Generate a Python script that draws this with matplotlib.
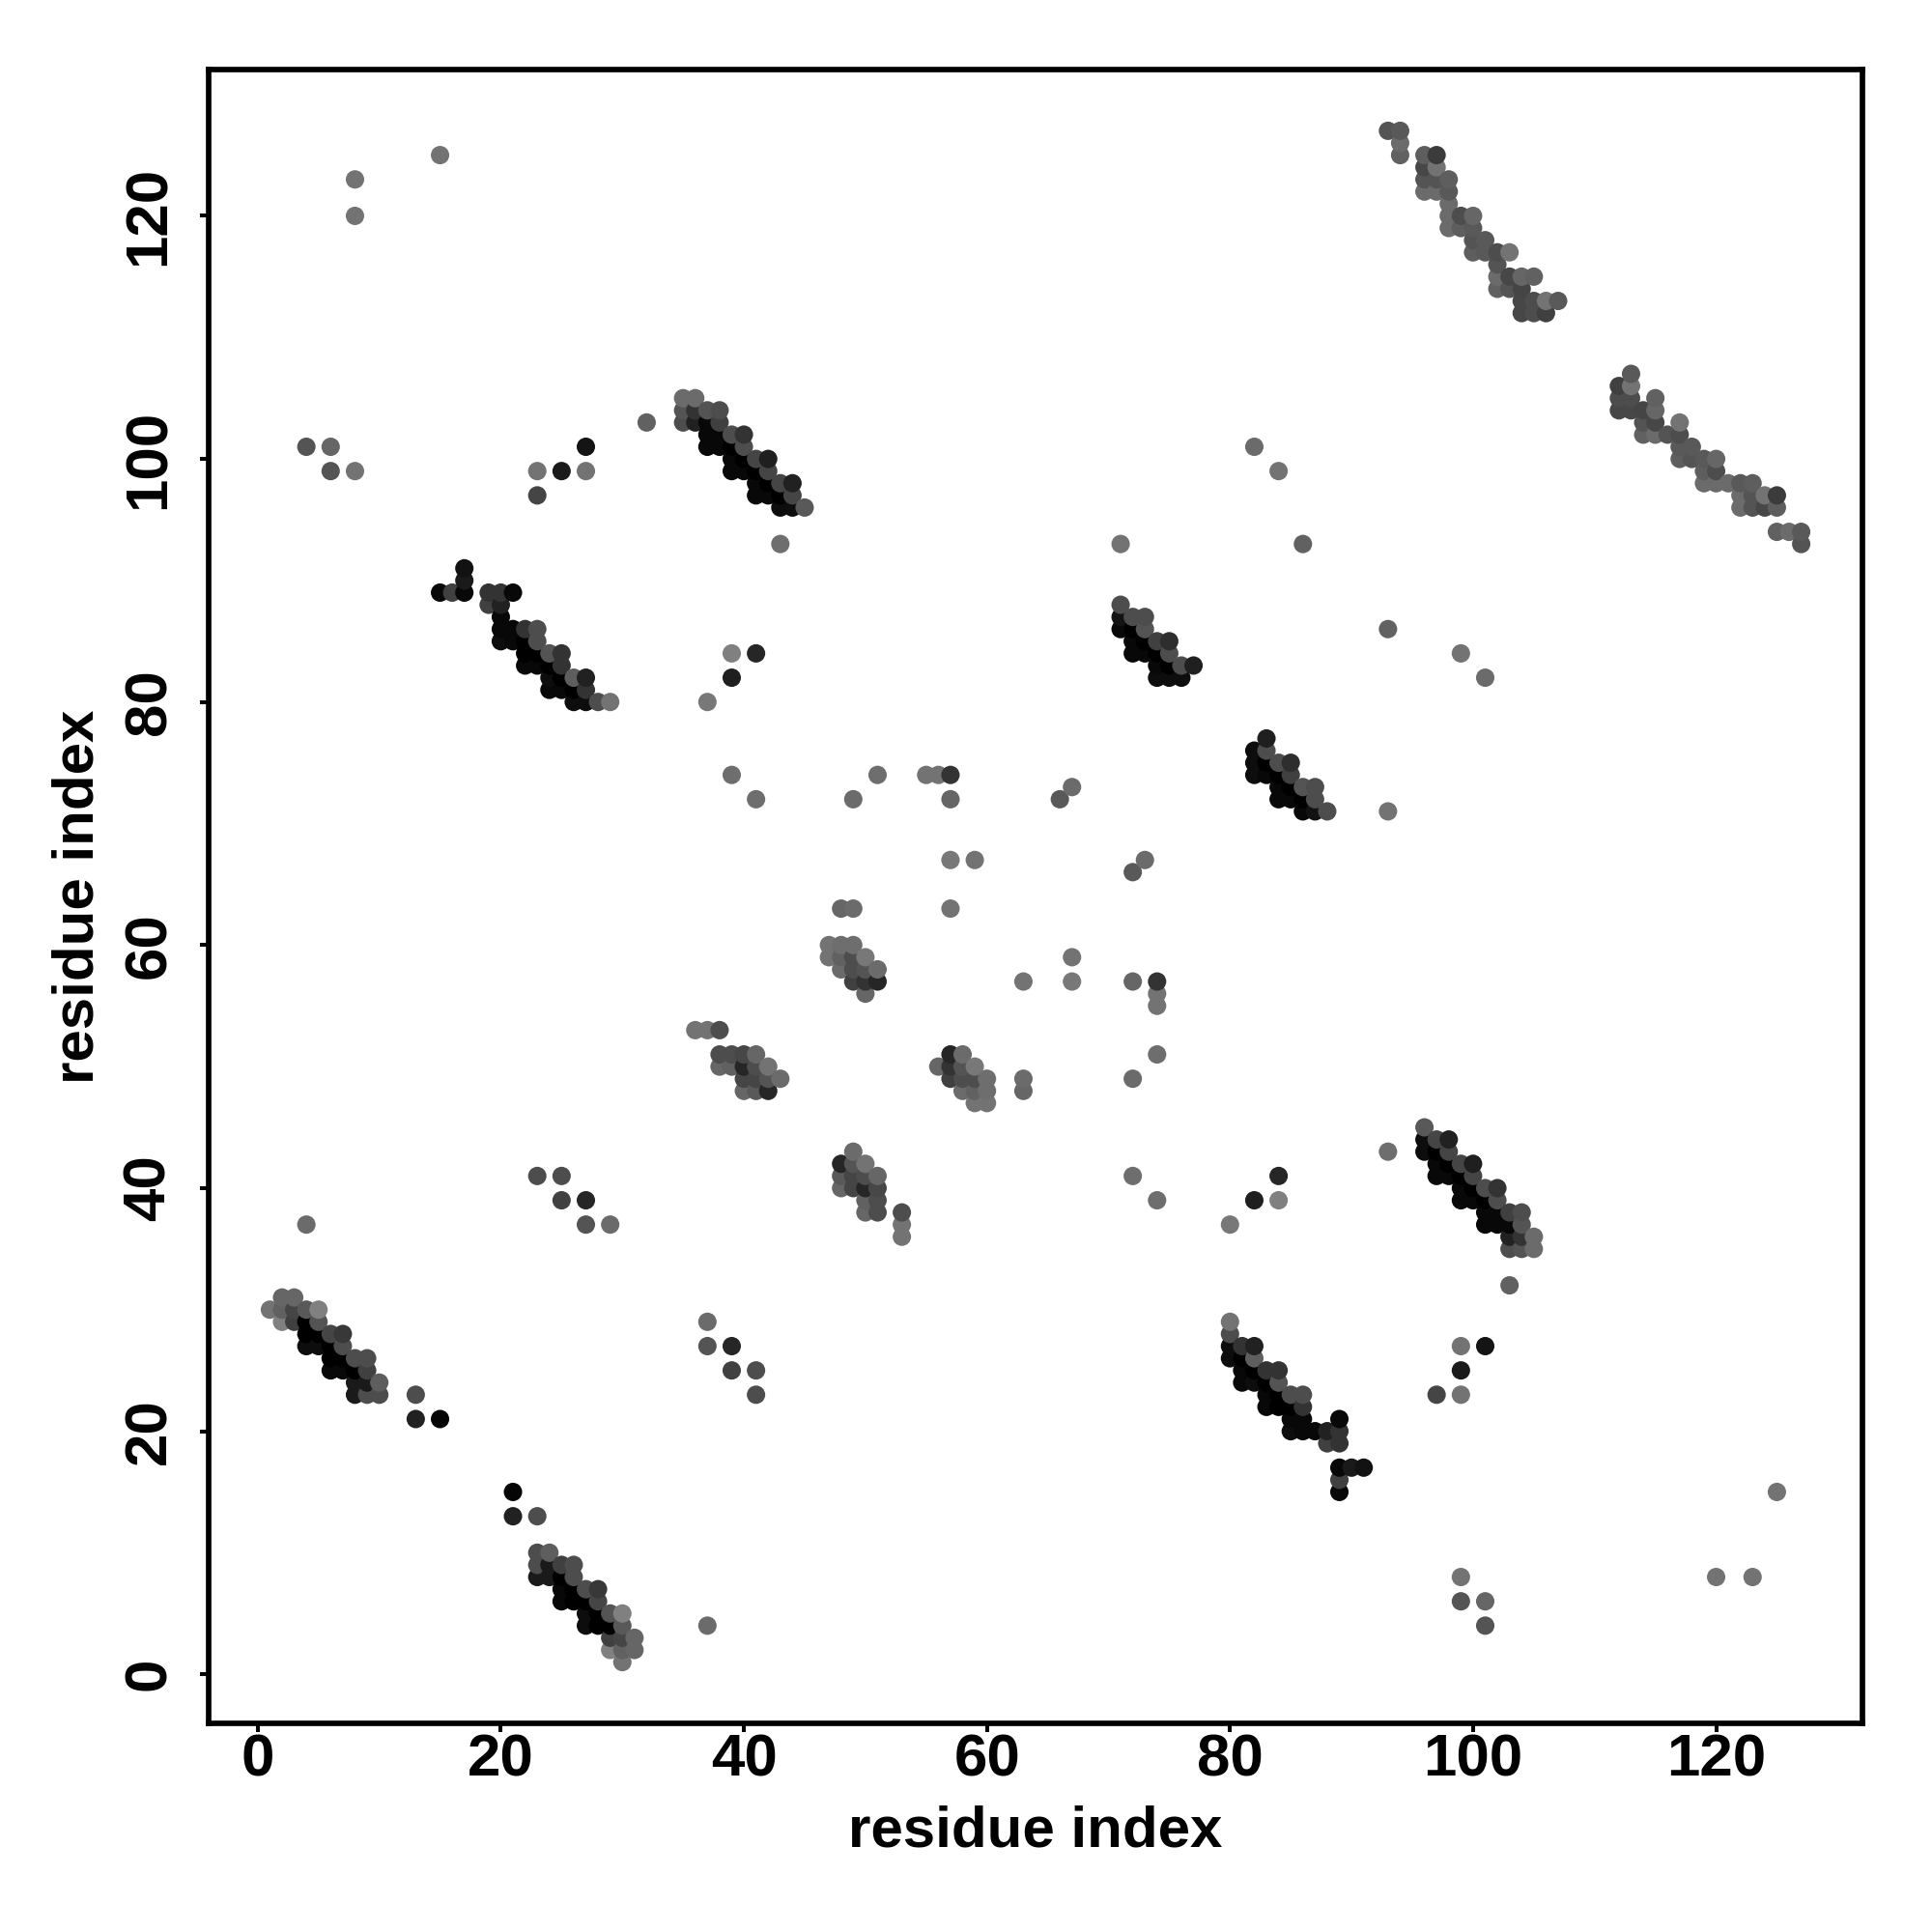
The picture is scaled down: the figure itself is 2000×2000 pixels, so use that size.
import numpy as np
import matplotlib
matplotlib.use("Agg")
import matplotlib.pyplot as plt

# Contacts with residue_x < residue_y; the map is symmetric.
a_x = [1, 2,3, 2,2, 3,3, 4,5, 4,5, 4,5,6,7, 4,5,6,7, 6,7,8,9, 6,7,8,9, 8,9,10, 8,9,10, 13,13,15]
a_y = [30, 31,31, 30,29, 30,29, 30,30, 29,29, 28,28,28,28, 27,27,27,27, 26,26,26,26, 25,25,25,25, 24,24,24, 23,23,23, 23,21,21]
a_g = [.45, .4,.4, .38,.5, .27,.25, .35,.5, 0,.33, 0,0,.27,.22, .05,.05,0,.3, 0,0,.3,.3, .03,.03,0,.25, .1,.1,.37, .1,.3,.3, .3,.13,.02]

c_x = [15,16,17, 17,17, 19,20,21, 19,20, 20, 20,21,22,23, 20,21,22,23, 22,23,24,25, 22,23,24,25, 24,25,26,27, 24,25,26,27, 26,27,28,29, 37,39,39,41]
c_y = [89,89,89, 90,91, 89,89,89, 88,88, 87, 86,86,86,86, 85,85,85,85, 84,84,84,84, 83,83,83,83, 82,82,82,82, 81,81,81,81, 80,80,80,80, 80,82,84,84]
c_g = [.03,.25,.03, .1,.07, .2,.2,.03, .25,.13, .03, .03,.03,.2,.3, .05,.03,0,.3, 0,0,.33,.2, .03,.03,0,.2, .05,0,.37,.13, .03,.03,0,.2, .05,.05,.3,.45, .47,.12,.5,.15]

d_x = [32, 35,36, 35,36, 35,36, 37,38, 37,38, 37,38,39,40, 37,38,39,40, 39,40,41,42, 39,40,41,42, 41,42,43,44, 41,42,43,44, 43,44,45, 43]
d_y = [103, 105,105, 104,104, 103,103, 104,104, 103,103, 102,102,102,102, 101,101,101,101, 100,100,100,100, 99,99,99,99, 98,98,98,98, 97,97,97,97, 96,96,96, 93]
d_g = [.38, .42,.42, .33,.2, .3,.13, .33,.3, .03,.25, .03,.03,.3,.2, .03,.03,0,.3, .03,0,.27,.12, .03,.03,0,.27, .03,0,.27,.13, .03,.03,0,.27, .05,.05,.35, .43]

e_x = [93,94,94,94, 96,97, 96,97, 96,97,98, 96,97,98, 98, 98,99,100, 98,99,100, 100,101, 100,101,102,103, 102, 102,103,104,105, 102,103,104, 104,105,106,107, 104,105,106]
e_y = [127,127,126,125, 125,125, 124,124, 123,123,123, 122,122,122, 121, 120,120,120, 119,119,119, 118,118, 117,117,117,117, 116, 115,115,115,115, 114,114,114, 113,113,113,113, 112,112,112]
e_g = [.33,.35,.42,.38, .37,.23, .28,.45, .33,.33,.37, .42,.42,.35, .42, .42,.3,.4, .42,.37,.35, .33,.35, .37,.35,.3,.45, .33, .42,.28,.4,.38, .38,.33,.27, .28,.3,.45,.35, .28,.3,.25]

g_x = [71, 71,72,73, 71,72,73, 72,73,74,75, 72,73,74,75, 74,75,76,77, 74,75,76]
g_y = [88, 87,87,87, 86,86,86, 85,85,85,85, 84,84,84,84, 83,83,83,83, 82,82,82]
g_g = [.3, .07,.3,.3, .03,0,.33, .03,0,.25,.18, .03,.03,0,.3, .03,0,.3,.12, .05,.05,.05]

top_x = [48,49,57, 47,48,49, 47,48,49,50, 48,49,50,51, 49,50,51, 50]
top_y = [63,63,63, 60,60,60, 59,59,59,59, 58,58,58,58, 57,57,57, 56]
top_g = [.4,.42,.45, .45,.43,.43, .45,.38,.3,.47, .42,.3,.33,.42, .25,.2,.15, .4]

left_x = [36,37,38, 38,39,40,41, 38,39,40,41,42, 40,41,42,43, 40,41,42]
left_y = [53,53,53, 51,51,51,51, 50,50,50,50,50, 49,49,49,49, 48,48,48]
left_g = [.45,.45,.3, .3,.3,.28,.4, .4,.38,.15,.3,.45, .27,.27,.33,.42, .4,.35,.15]

iso_x = [8,8,15, 4,6,6,8, 23,23,25,27,27, 4, 23,25,25,27,27,29, 39,41, 49,51,55,56,57,57, 57,59, 66,67, 71,82,84,86]
iso_y = [123,120,125, 101,101,99,99, 99,97,99,101,99, 37, 41,41,39,39,37,37, 74,72, 72,74,74,74,74,72, 67,67, 72,73, 93,101,99,93]
iso_g = [.45,.45,.45, .33,.4,.33,.45, .45,.27,.1,.08,.45, .42, .3,.3,.25,.15,.33,.42, .43,.43, .42,.43,.45,.45,.2,.4, .47,.45, .35,.42, .45,.42,.45,.38]

x_ticks = [0, 20, 40, 60, 80, 100, 120]
y_ticks = [0, 20, 40, 60, 80, 100, 120]
x_label = "residue index"
y_label = "residue index"

half_x = np.array(a_x + c_x + d_x + e_x + g_x + top_x + left_x + iso_x)
half_y = np.array(a_y + c_y + d_y + e_y + g_y + top_y + left_y + iso_y)
half_g = np.array(a_g + c_g + d_g + e_g + g_g + top_g + left_g + iso_g)
assert len(half_x) == len(half_y) == len(half_g)

xs = np.concatenate([half_x, half_y])
ys = np.concatenate([half_y, half_x])
gs = np.concatenate([half_g, half_g])
order = np.lexsort((ys, xs))

plt.rcParams["font.family"] = ["Liberation Sans", "DejaVu Sans"]
plt.rcParams["font.weight"] = "bold"

fig = plt.figure(figsize=(10, 10), dpi=200)
L, R, T, B = 216, 1928, 72, 1784
ax = fig.add_axes([L/2000, 1 - B/2000, (R-L)/2000, (B-T)/2000])
ax.scatter(xs[order], ys[order], s=47, c=[str(v) for v in gs[order]],
           linewidths=0, zorder=3)
ax.set_xlim(-4.04, 132.04)
ax.set_ylim(-4.04, 132.04)
ax.set_xticks(x_ticks)
ax.set_yticks(y_ticks)
ax.tick_params(axis="both", length=3.2, width=1.45, labelsize=22.3)
ax.tick_params(axis="x", pad=0.5)
ax.tick_params(axis="y", pad=8.3)
for t in ax.get_yticklabels():
    t.set_rotation(90)
    t.set_va("center")
for s in ax.spines.values():
    s.set_linewidth(2.05)
ax.set_xlabel(x_label, fontsize=21.6, fontweight="bold", labelpad=6.1)
ax.set_ylabel(y_label, fontsize=21.6, fontweight="bold", labelpad=6.6)
fig.savefig("out.png", dpi=200)
